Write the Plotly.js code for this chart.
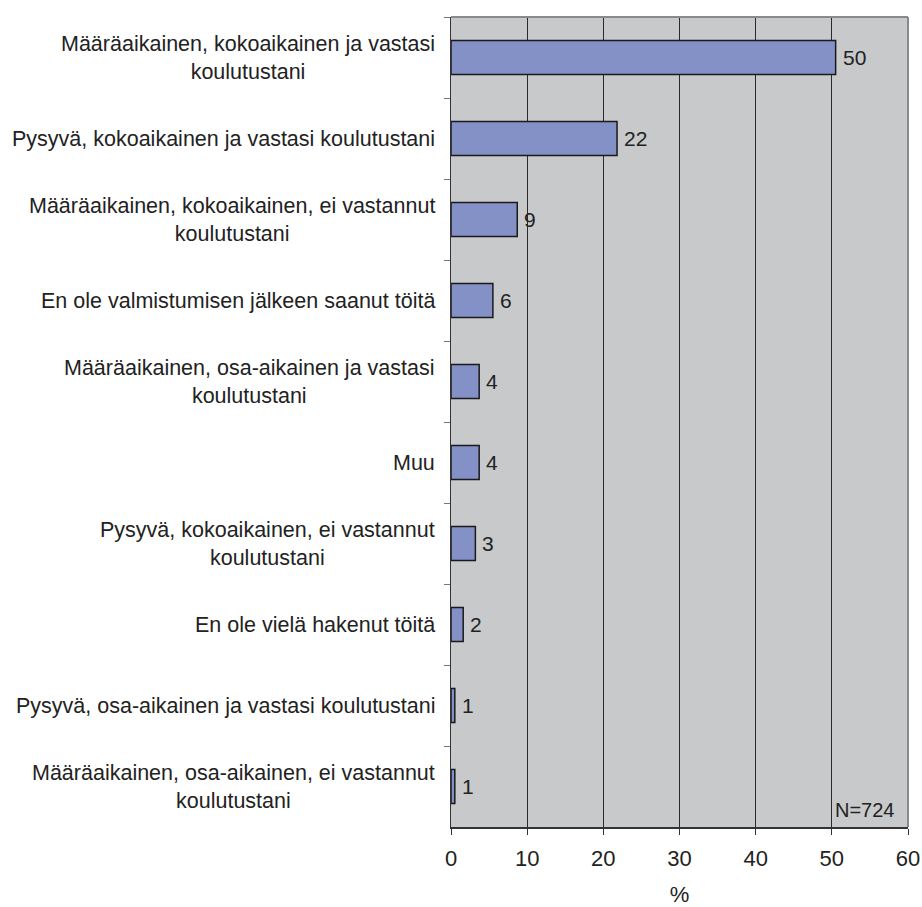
<!DOCTYPE html>
<html>
<head>
<meta charset="utf-8">
<script src="https://cdn.plot.ly/plotly-3.0.1.min.js"></script>
<style>html,body{margin:0;padding:0;background:#fff;}#chart{width:922px;height:907px;}</style>
</head>
<body>
<div id="chart"></div>
<script>
const categories = [
  "Määräaikainen, kokoaikainen ja vastasi<br>koulutustani",
  "Pysyvä, kokoaikainen ja vastasi koulutustani",
  "Määräaikainen, kokoaikainen, ei vastannut<br>koulutustani",
  "En ole valmistumisen jälkeen saanut töitä",
  "Määräaikainen, osa-aikainen ja vastasi<br>koulutustani",
  "Muu",
  "Pysyvä, kokoaikainen, ei vastannut<br>koulutustani",
  "En ole vielä hakenut töitä",
  "Pysyvä, osa-aikainen ja vastasi koulutustani",
  "Määräaikainen, osa-aikainen, ei vastannut<br>koulutustani"
];
const values = [50.5, 21.8, 8.7, 5.5, 3.7, 3.7, 3.2, 1.6, 0.5, 0.5];
const valueLabels = ["50", "22", "9", "6", "4", "4", "3", "2", "1", "1"];
const xTicks = [0, 10, 20, 30, 40, 50, 60];
const noteText = "N=724";
const xTitle = "%";

const FONT = "Liberation Sans, Arial, Helvetica, sans-serif";
const FS = 21;
const annotations = [];
categories.forEach((c, i) => {
  annotations.push({
    xref: "paper", yref: "y", x: 0, y: c, xanchor: "right", yanchor: "middle",
    xshift: -14, text: c, showarrow: false, align: "center",
    font: {family: FONT, size: 21.5, color: "#222"}
  });
  annotations.push({
    xref: "x", yref: "y", x: values[i], y: c, xanchor: "left", yanchor: "middle",
    xshift: 5, text: valueLabels[i], showarrow: false,
    font: {family: FONT, size: FS, color: "#222"}
  });
});
annotations.push({
  xref: "paper", yref: "paper", x: 0.975, y: 0.0, xanchor: "right", yanchor: "bottom",
  yshift: 4, text: noteText, showarrow: false, font: {family: FONT, size: 20, color: "#222"}
});

const trace = {
  type: "bar", orientation: "h",
  x: values, y: categories,
  width: 0.42,
  marker: {color: "#8391c7", line: {color: "#1a1a1a", width: 1.5}},
  hoverinfo: "skip"
};

const layout = {
  width: 922, height: 907,
  margin: {l: 451, r: 14, t: 17, b: 80},
  paper_bgcolor: "#ffffff",
  plot_bgcolor: "#c8c9cb",
  showlegend: false,
  font: {family: FONT, size: FS, color: "#222"},
  xaxis: {
    range: [0, 60], tickvals: xTicks, ticktext: xTicks.map(String),
    showgrid: true, gridcolor: "#2a2a2a", gridwidth: 1,
    zeroline: false, showline: true, linecolor: "#333", linewidth: 1.5,
    ticks: "outside", ticklen: 6, tickcolor: "#333", tickwidth: 1,
    ticklabelstandoff: 5,
    tickfont: {family: FONT, size: 22, color: "#222"},
    title: {text: xTitle, font: {family: FONT, size: 22, color: "#222"}, standoff: 26},
    fixedrange: true
  },
  yaxis: {
    type: "category", categoryorder: "array", categoryarray: categories,
    autorange: "reversed",
    showticklabels: false, showgrid: false, zeroline: false,
    showline: true, linecolor: "#333", linewidth: 1.5,
    ticks: "outside", tickson: "boundaries", ticklen: 6, tickcolor: "#777", tickwidth: 1,
    fixedrange: true
  },
  shapes: [
    {type: "line", xref: "paper", yref: "paper", x0: 0, x1: 1, y0: 1, y1: 1, line: {color: "#8a8a8a", width: 2}},
    {type: "line", xref: "paper", yref: "paper", x0: 1, x1: 1, y0: 0, y1: 1, line: {color: "#8a8a8a", width: 2}}
  ],
  annotations: annotations
};

Plotly.newPlot("chart", [trace], layout, {staticPlot: true, displayModeBar: false});
</script>
</body>
</html>
